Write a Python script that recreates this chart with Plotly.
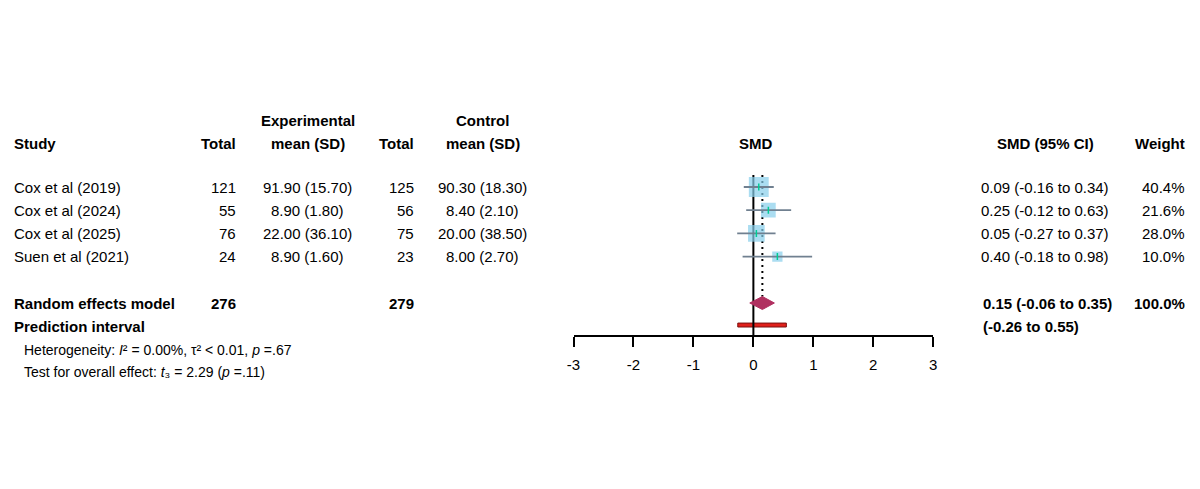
import math
import plotly.graph_objects as go

# ---------------- data ----------------
studies = ["Cox et al (2019)", "Cox et al (2024)", "Cox et al (2025)", "Suen et al (2021)"]
exp_n = [121, 55, 76, 24]
exp_mean = [91.90, 8.90, 22.00, 8.90]
exp_sd = [15.70, 1.80, 36.10, 1.60]
ctl_n = [125, 56, 75, 23]
ctl_mean = [90.30, 8.40, 20.00, 8.00]
ctl_sd = [18.30, 2.10, 38.50, 2.70]
smd = [0.09, 0.25, 0.05, 0.40]
ci_lo = [-0.16, -0.12, -0.27, -0.18]
ci_hi = [0.34, 0.63, 0.37, 0.98]
weight = [40.4, 21.6, 28.0, 10.0]

re_label = "Random effects model"
re_n_exp = 276
re_n_ctl = 279
re_est = 0.15
re_lo = -0.06
re_hi = 0.35
re_weight = 100.0

pi_label = "Prediction interval"
pi_lo = -0.26
pi_hi = 0.55

het_text = "Heterogeneity: <i>I</i>² = 0.00%, τ² &lt; 0.01, <i>p</i> =.67"
test_text = "Test for overall effect: <i>t</i>₃ = 2.29 (<i>p</i> =.11)"

tick_vals = [-3, -2, -1, 0, 1, 2, 3]
tick_text = [str(v) for v in tick_vals]

# ---------------- layout helpers ----------------
PAGE_OFF = 8                 # browser body margin
SHOT_SCALE, SHOT_SHIFT = 0.9915, 7.1   # measured horizontal page->screenshot mapping
W, H = 1200 - 2 * PAGE_OFF, 489 - 2 * PAGE_OFF
FONT = "Liberation Sans, Arial, sans-serif"
FS = 15
ROW0_PX = 187.0 - PAGE_OFF
ROW_H = 23.2
AXIS_PX = 336.0 - PAGE_OFF


def row_of(p):
    return (p - PAGE_OFF - ROW0_PX) / ROW_H


def px(x):
    page = (x - SHOT_SHIFT) / SHOT_SCALE
    return (page - PAGE_OFF) / W


study_rows = list(range(len(studies)))
re_row = 5
pi_row = 6
hdr1_row = row_of(120)
hdr2_row = row_of(143.5)
het_row = row_of(350)
test_row = row_of(372)
axis_row = row_of(AXIS_PX + PAGE_OFF)

y_top = (0 - ROW0_PX) / ROW_H
y_bot = (H - ROW0_PX) / ROW_H

fig = go.Figure()

# study squares (area ~ weight)
fig.add_trace(go.Scatter(
    x=smd, y=study_rows, mode="markers",
    marker=dict(symbol="square", size=[3.0 * math.sqrt(w) + 0.8 for w in weight],
                color="#87CEEB", line=dict(width=0)),
    hoverinfo="skip", showlegend=False))

# confidence intervals
cx, cy = [], []
for lo, hi, r in zip(ci_lo, ci_hi, study_rows):
    cx += [lo, hi, None]
    cy += [r, r, None]
fig.add_trace(go.Scatter(x=cx, y=cy, mode="lines",
                         line=dict(color="#708090", width=1.8),
                         hoverinfo="skip", showlegend=False))

# point-estimate ticks
fig.add_trace(go.Scatter(
    x=smd, y=study_rows, mode="markers",
    marker=dict(symbol="line-ns-open", size=5, line=dict(color="#708090", width=1.5)),
    hoverinfo="skip", showlegend=False))

# pooled diamond
dh = 0.28
fig.add_trace(go.Scatter(
    x=[re_lo, re_est, re_hi, re_est, re_lo],
    y=[re_row, re_row - dh, re_row, re_row + dh, re_row],
    mode="lines", fill="toself", fillcolor="#B03060",
    line=dict(color="#B03060", width=1),
    hoverinfo="skip", showlegend=False))

shapes = []
# prediction interval bar
shapes.append(dict(type="rect", xref="x", yref="y", x0=pi_lo, x1=pi_hi,
                   y0=pi_row - 0.05 - 0.085, y1=pi_row - 0.05 + 0.085,
                   fillcolor="#E0201B", line=dict(color="#7A1010", width=1), layer="below"))
# line of no effect
shapes.append(dict(type="line", xref="x", yref="y", x0=0, x1=0, y0=-0.52, y1=axis_row,
                   line=dict(color="black", width=2), layer="below"))
# pooled estimate dotted line
shapes.append(dict(type="line", xref="x", yref="y", x0=re_est, x1=re_est, y0=-0.52,
                   y1=re_row - dh, line=dict(color="black", width=2, dash="2px,4px"),
                   layer="below"))

ann = []


def text(x, y, s, anchor, bold=False, size=FS):
    if bold:
        s = "<b>" + s + "</b>"
    ann.append(dict(x=px(x), y=y, xref="paper", yref="y", text=s, showarrow=False,
                    xanchor=anchor, yanchor="middle",
                    font=dict(family=FONT, size=size, color="black")))


# column anchors (reference pixels)
X_STUDY = 12
X_ENT = 238.5
X_EMEAN = 308
X_CNT = 416
X_CMEAN = 483
X_SMD = 757
X_CI = 979.7
X_CIH = 1046
X_W = 1188

# headers
text(X_EMEAN, hdr1_row, "Experimental", "center", True)
text(X_CMEAN, hdr1_row, "Control", "center", True)
text(X_STUDY, hdr2_row, "Study", "left", True)
text(X_ENT, hdr2_row, "Total", "right", True)
text(X_EMEAN, hdr2_row, "mean (SD)", "center", True)
text(X_CNT, hdr2_row, "Total", "right", True)
text(X_CMEAN, hdr2_row, "mean (SD)", "center", True)
text(X_SMD, hdr2_row, "SMD", "center", True)
text(X_CIH, hdr2_row, "SMD (95% CI)", "center", True)
text(X_W, hdr2_row, "Weight", "right", True)

for i, r in enumerate(study_rows):
    text(X_STUDY, r, studies[i], "left")
    text(X_ENT, r, str(exp_n[i]), "right")
    text(X_EMEAN, r, f"{exp_mean[i]:.2f} ({exp_sd[i]:.2f})", "center")
    text(X_CNT, r, str(ctl_n[i]), "right")
    text(X_CMEAN, r, f"{ctl_mean[i]:.2f} ({ctl_sd[i]:.2f})", "center")
    text(X_CI, r, f"{smd[i]:.2f} ({ci_lo[i]:.2f} to {ci_hi[i]:.2f})", "left")
    text(X_W, r, f"{weight[i]:.1f}%", "right")

text(X_STUDY, re_row, re_label, "left", True)
text(X_ENT, re_row, str(re_n_exp), "right", True)
text(X_CNT, re_row, str(re_n_ctl), "right", True)
text(X_CI + 2, re_row, f"{re_est:.2f} ({re_lo:.2f} to {re_hi:.2f})", "left", True)
text(X_W, re_row, f"{re_weight:.1f}%", "right", True)

text(X_STUDY, pi_row, pi_label, "left", True)
text(X_CI + 2, pi_row, f"({pi_lo:.2f} to {pi_hi:.2f})", "left", True)

text(22, het_row, het_text, "left", size=14)
text(22, test_row, test_text, "left", size=14)

fig.update_layout(
    width=W, height=H, margin=dict(l=0, r=0, t=0, b=0),
    paper_bgcolor="white", plot_bgcolor="white",
    shapes=shapes, annotations=ann, showlegend=False,
    xaxis=dict(domain=[px(574), px(934)], range=[-3, 3], showgrid=False, zeroline=False,
               anchor="free", position=(H - AXIS_PX) / H,
               showline=True, linecolor="black", linewidth=2, ticks="outside",
               ticklen=10, tickwidth=2, tickcolor="black", tickvals=tick_vals,
               ticktext=tick_text, ticklabelstandoff=5,
               tickfont=dict(family=FONT, size=FS, color="black"), fixedrange=True),
    yaxis=dict(domain=[0, 1], range=[y_bot, y_top], visible=False, fixedrange=True),
)

fig.write_html("out.html")
